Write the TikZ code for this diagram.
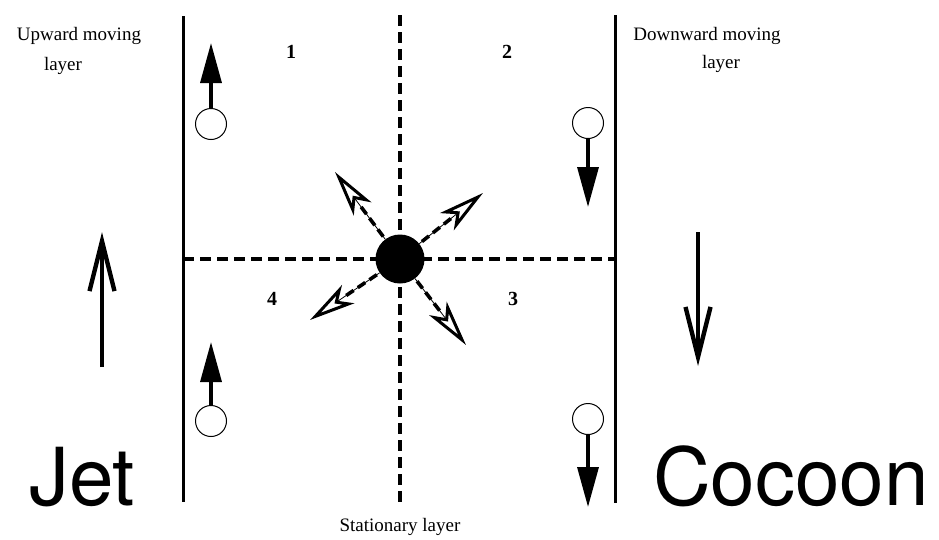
\documentclass[tikz,border=0pt]{standalone}
\usepackage{fontspec}
\setmainfont{Liberation Serif}
\newfontfamily\bigsans{TeX Gyre Heros}
\usetikzlibrary{arrows.meta,calc}
\begin{document}
\begin{tikzpicture}[x=1pt,y=-1pt,
  wall/.style={line width=3pt},
  divide/.style={line width=3.6pt, dash pattern=on 11pt off 6pt},
  lbl/.style={font=\fontsize{19}{22}\selectfont, inner sep=0pt},
  quad/.style={font=\bfseries\fontsize{20}{22}\selectfont, inner sep=0pt},
  big/.style={font=\bigsans\fontsize{80}{80}\selectfont, inner sep=0pt, anchor=base west},
  particle/.style={circle, draw, line width=1pt, minimum size=31pt, inner sep=0pt},
  motion/.style={line width=3.4pt, -{Triangle[length=40pt,width=21pt]}},
  flow/.style={line width=4.4pt, -{Straight Barb[length=50pt,width=25pt,line width=4.4pt]}},
  outthin/.style={line width=0.8pt, -{Stealth[open,length=46pt,width=22pt,inset=12pt,line width=3pt]}},
  outdash/.style={line width=3.6pt, dash pattern=on 9pt off 5pt}
]
\useasboundingbox (0,0) rectangle (939,539);

% walls and dividers
\coordinate (lwT) at (183,16);
\coordinate (lwB) at (183,502);
\coordinate (rwT) at (615,15);
\coordinate (rwB) at (615,503);
\coordinate (vdT) at (400,15);
\coordinate (vdB) at (400,508);
\coordinate (hdL) at (183,259);
\coordinate (hdR) at (615,259);
\draw[wall] (lwT) -- (lwB);
\draw[wall] (rwT) -- (rwB);
\draw[divide] (vdT) -- (vdB);
\draw[divide] (hdL) -- (hdR);

% central particle
\node[circle, fill=black, minimum size=49pt, inner sep=0pt] (ctr) at (400,259) {};

% outgoing arrows
\coordinate (tUL) at (335,172);
\coordinate (tUR) at (483,193);
\coordinate (tDL) at (310,320);
\coordinate (tDR) at (466,345);
\foreach \t in {tUL,tUR,tDL,tDR}{
  \draw[outthin] (ctr) -- (\t);
  \draw[outdash] (ctr.center) -- ($(ctr.center)!0.62!(\t)$);
}

% quadrant numbers
\node[quad] (n1) at (291,52) {1};
\node[quad] (n2) at (507,52) {2};
\node[quad] (n3) at (513,299) {3};
\node[quad] (n4) at (272,299) {4};

% moving particles
\node[particle] (pUL) at (211,124) {};
\coordinate (aUL) at (211,43);
\draw[motion] (pUL) -- (aUL);
\node[particle] (pDL) at (211,421) {};
\coordinate (aDL) at (211,342);
\draw[motion] (pDL) -- (aDL);
\node[particle] (pUR) at (588,123) {};
\coordinate (aUR) at (588,207);
\draw[motion] (pUR) -- (aUR);
\node[particle] (pDR) at (588,419) {};
\coordinate (aDR) at (588,507);
\draw[motion] (pDR) -- (aDR);

% bulk flow arrows
\coordinate (jB) at (102,367);
\coordinate (jT) at (102,232);
\draw[flow] (jB) -- (jT);
\coordinate (cT) at (698,232);
\coordinate (cB) at (698,366);
\draw[flow] (cT) -- (cB);

% labels
\node[lbl] (up1) at (79,36) {Upward moving};
\node[lbl] (up2) at (63,66) {layer};
\node[lbl] (dn1) at (707,36) {Downward moving};
\node[lbl] (dn2) at (721,64) {layer};
\node[lbl] (st) at (400,527) {Stationary layer};
\node[big] (jet) at (29,505) {Jet};
\node[big] (coc) at (653,505) {Cocoon};
\end{tikzpicture}
\end{document}
